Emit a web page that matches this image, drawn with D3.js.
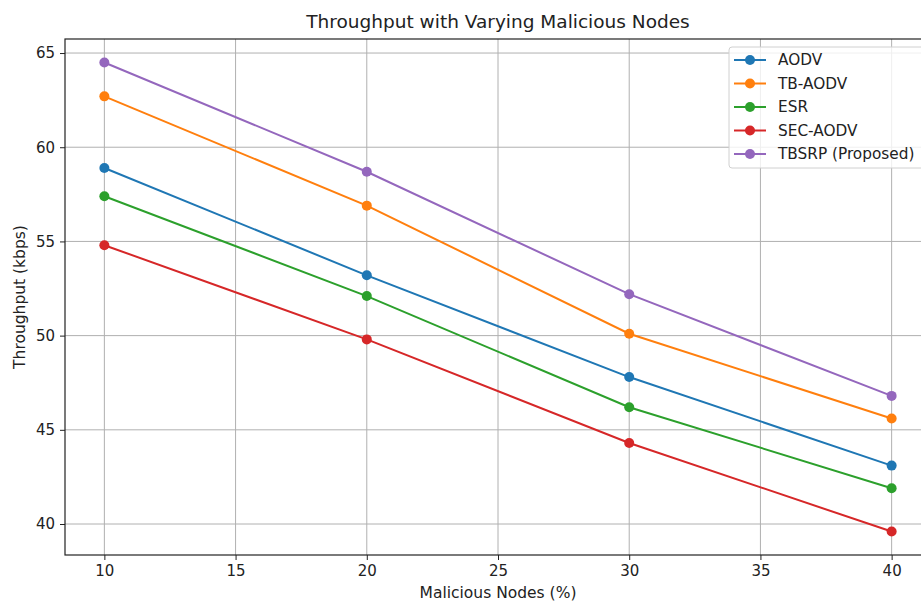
<!DOCTYPE html>
<html>
<head>
<meta charset="utf-8">
<script src="https://cdn.jsdelivr.net/npm/d3@7"></script>
<style>
  body { margin: 0; background: #fff; }
  svg { display: block; font-family: "DejaVu Sans", sans-serif; }
  .tick text { font-size: 15px; fill: #222; font-family: "DejaVu Sans", sans-serif; }
  .grid line { stroke: #b0b0b0; stroke-width: 1; }
</style>
</head>
<body>
<svg id="chart" width="921" height="604"></svg>
<script>
// malicious node share (%) on x
const nodes = [10, 20, 30, 40];
const seriesNames = ['AODV', 'TB-AODV', 'ESR', 'SEC-AODV', 'TBSRP (Proposed)'];
const aodv = [58.9, 53.2, 47.8, 43.1];
const tbAodv = [62.7, 56.9, 50.1, 45.6];
const esr = [57.4, 52.1, 46.2, 41.9];
const secAodv = [54.8, 49.8, 44.3, 39.6];
const tbsrp = [64.5, 58.7, 52.2, 46.8];
const xTicks = [10, 15, 20, 25, 30, 35, 40];
const yTicks = [40, 45, 50, 55, 60, 65];
const colors = ['#1f77b4', '#ff7f0e', '#2ca02c', '#d62728', '#9467bd'];

const series = [aodv, tbAodv, esr, secAodv, tbsrp].map((vals, i) => ({
    name: seriesNames[i],
    color: colors[i],
    points: vals.map((v, j) => ({ x: nodes[j], y: v }))
}));

const svg = d3.select('#chart');
const plotLeft = 65, plotRight = 931, plotTop = 39, plotBottom = 555;

// matplotlib style 5% margins
const xScale = d3.scaleLinear().domain([8.5, 41.5]).range([plotLeft, plotRight]);
const yScale = d3.scaleLinear().domain([38.355, 65.745]).range([plotBottom, plotTop]);

// grid
svg.append('g').attr('class', 'grid')
    .selectAll('line').data(xTicks).enter().append('line')
    .attr('x1', d => xScale(d)).attr('x2', d => xScale(d))
    .attr('y1', plotTop).attr('y2', plotBottom);
svg.append('g').attr('class', 'grid')
    .selectAll('line').data(yTicks).enter().append('line')
    .attr('x1', plotLeft).attr('x2', plotRight)
    .attr('y1', d => yScale(d)).attr('y2', d => yScale(d));

// axes
const xAxis = svg.append('g')
    .attr('transform', `translate(0, ${plotBottom})`)
    .call(d3.axisBottom(xScale).tickValues(xTicks).tickSize(5).tickPadding(5).tickSizeOuter(0));
const yAxis = svg.append('g')
    .attr('transform', `translate(${plotLeft}, 0)`)
    .call(d3.axisLeft(yScale).tickValues(yTicks).tickSize(5).tickPadding(5).tickSizeOuter(0));
xAxis.select('.domain').remove();
yAxis.select('.domain').remove();
svg.selectAll('.tick line').attr('stroke', '#222');

// spines
svg.append('rect')
    .attr('x', plotLeft).attr('y', plotTop)
    .attr('width', plotRight - plotLeft).attr('height', plotBottom - plotTop)
    .attr('fill', 'none').attr('stroke', '#222').attr('stroke-width', 1.2);

const line = d3.line().x(d => xScale(d.x)).y(d => yScale(d.y));

const groups = svg.selectAll('.series').data(series).enter().append('g');
groups.append('path')
    .attr('d', d => line(d.points))
    .attr('fill', 'none')
    .attr('stroke', d => d.color)
    .attr('stroke-width', 2);
groups.each(function(s) {
    d3.select(this).selectAll('circle').data(s.points).enter().append('circle')
        .attr('cx', d => xScale(d.x))
        .attr('cy', d => yScale(d.y))
        .attr('r', 5)
        .attr('fill', s.color);
});

// legend
const legend = svg.append('g').attr('transform', 'translate(729, 47)');
legend.append('rect')
    .attr('width', 200).attr('height', 121).attr('rx', 3)
    .attr('fill', '#fff').attr('fill-opacity', 0.8)
    .attr('stroke', '#d0d0d0');
const items = legend.selectAll('.item').data(series).enter().append('g')
    .attr('transform', (d, i) => `translate(0, ${13 + i * 23.5})`);
items.append('line')
    .attr('x1', 5).attr('x2', 37)
    .attr('stroke', d => d.color).attr('stroke-width', 2);
items.append('circle')
    .attr('cx', 21).attr('r', 5).attr('fill', d => d.color);
items.append('text')
    .attr('x', 49).attr('dy', '0.35em')
    .attr('font-size', 15.3).attr('fill', '#222')
    .text(d => d.name);

// labels
svg.append('text')
    .attr('x', (plotLeft + plotRight) / 2).attr('y', 28)
    .attr('text-anchor', 'middle')
    .attr('font-size', 18.5).attr('fill', '#222')
    .text('Throughput with Varying Malicious Nodes');
svg.append('text')
    .attr('x', (plotLeft + plotRight) / 2).attr('y', 598)
    .attr('text-anchor', 'middle')
    .attr('font-size', 15.5).attr('fill', '#222')
    .text('Malicious Nodes (%)');
svg.append('text')
    .attr('transform', `translate(25, ${(plotTop + plotBottom) / 2}) rotate(-90)`)
    .attr('text-anchor', 'middle')
    .attr('font-size', 15.5).attr('fill', '#222')
    .text('Throughput (kbps)');
</script>
</body>
</html>
